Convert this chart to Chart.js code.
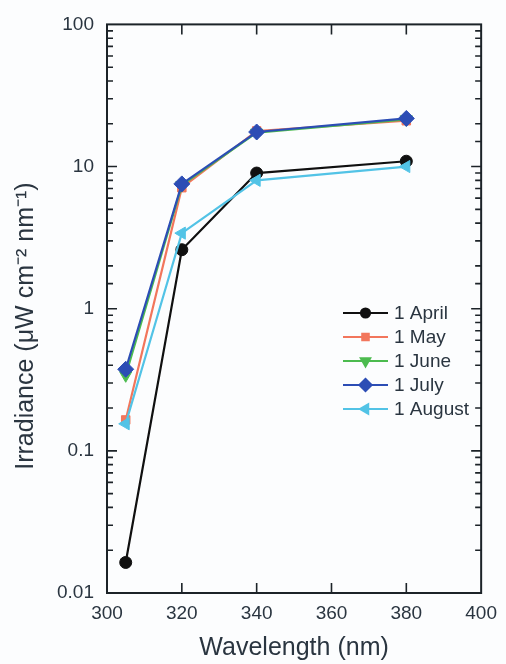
<!DOCTYPE html>
<html>
<head>
<meta charset="utf-8">
<script src="https://cdn.jsdelivr.net/npm/chart.js@4/dist/chart.umd.min.js"></script>
<style>
  html, body { margin: 0; padding: 0; background: #fcfdfe; }
  #wrap { width: 506px; height: 664px; }
</style>
</head>
<body>
<div id="wrap"><canvas id="graphic" width="506" height="664"></canvas></div>
<script>
// ==========================================================================
// DATA
// ==========================================================================
const wavelengths = [305, 320, 340, 380];
const seriesNames = ['1 April', '1 May', '1 June', '1 July', '1 August'];
const april  = [0.0164, 2.6, 9.0, 10.9];
const may    = [0.165, 7.1, 17.8, 21.0];
const june   = [0.34, 7.4, 17.3, 21.5];
const july   = [0.375, 7.55, 17.5, 21.8];
const august = [0.155, 3.4, 8.0, 10.0];
const xTicks = [300, 320, 340, 360, 380, 400];
const yDecades = [0.01, 0.1, 1, 10, 100];

const FONT = "'Liberation Sans', Arial, Helvetica, sans-serif";
const INK = '#1c2328';
const LABEL = '#2a3540';

function points(values) {
  return wavelengths.map((w, i) => ({ x: w, y: values[i] }));
}

// style per series: colour, marker, size, rotation, draw order
const styles = [
  { color: '#101010', point: 'circle',   r: 6,   rot: 0,   order: 4 },
  { color: '#f2765c', point: 'rect',     r: 6,   rot: 0,   order: 3 },
  { color: '#4cbb4f', point: 'triangle', r: 7,   rot: 180, order: 2 },
  { color: '#2c4db5', point: 'rectRot',  r: 8,   rot: 0,   order: 0 },
  { color: '#52c3e6', point: 'triangle', r: 7,   rot: 270, order: 1 },
];
const allValues = [april, may, june, july, august];

// ==========================================================================
// FRAME + INWARD TICKS + LEGEND
// ==========================================================================
const framePlugin = {
  id: 'frame',
  afterDatasetsDraw(chart) {
    const { ctx, chartArea: a, scales } = chart;
    ctx.save();
    ctx.strokeStyle = INK;
    ctx.lineWidth = 2;
    ctx.strokeRect(a.left, a.top, a.right - a.left, a.bottom - a.top);

    // x major ticks, top and bottom
    ctx.lineWidth = 1.6;
    scales.x.ticks.forEach(t => {
      const px = scales.x.getPixelForValue(t.value);
      if (px <= a.left + 1 || px >= a.right - 1) return;
      ctx.beginPath();
      ctx.moveTo(px, a.bottom); ctx.lineTo(px, a.bottom - 10);
      ctx.moveTo(px, a.top); ctx.lineTo(px, a.top + 10);
      ctx.stroke();
    });

    // y major + minor ticks, left and right
    scales.y.ticks.forEach(t => {
      const py = scales.y.getPixelForValue(t.value);
      if (py <= a.top + 1 || py >= a.bottom - 1) return;
      const lg = Math.log10(t.value);
      const len = Math.abs(lg - Math.round(lg)) < 1e-6 ? 10 : 6;
      ctx.beginPath();
      ctx.moveTo(a.left, py); ctx.lineTo(a.left + len, py);
      ctx.moveTo(a.right, py); ctx.lineTo(a.right - len, py);
      ctx.stroke();
    });
    ctx.restore();
  },
  afterDraw(chart) {
    const { ctx, chartArea: a } = chart;
    const x0 = a.left + 236;
    const y0 = 313;
    const step = 24;
    ctx.save();
    ctx.font = '19px ' + FONT;
    ctx.textBaseline = 'middle';
    ctx.fillStyle = LABEL;
    chart.data.datasets.forEach((ds, i) => {
      const y = y0 + i * step;
      ctx.strokeStyle = ds.borderColor;
      ctx.lineWidth = 2.2;
      ctx.beginPath();
      ctx.moveTo(x0, y); ctx.lineTo(x0 + 45, y);
      ctx.stroke();
      ctx.fillStyle = ds.backgroundColor;
      Chart.helpers.drawPoint(ctx, {
        pointStyle: ds.pointStyle,
        rotation: ds.pointRotation,
        radius: ds.pointRadius * 0.75,
        borderWidth: 1
      }, x0 + 22.5, y);
      ctx.fillStyle = LABEL;
      ctx.fillText(ds.label, x0 + 51, y + 1);
    });
    ctx.restore();
  }
};

// ==========================================================================
// CHART
// ==========================================================================
const ctx = document.getElementById('graphic').getContext('2d');
const myChart = new Chart(ctx, {
  type: 'scatter',
  data: {
    datasets: allValues.map((vals, i) => ({
      label: seriesNames[i],
      data: points(vals),
      showLine: true,
      tension: 0,
      borderColor: styles[i].color,
      backgroundColor: styles[i].color,
      borderWidth: 2.2,
      pointStyle: styles[i].point,
      pointRadius: styles[i].r,
      pointRotation: styles[i].rot,
      pointBorderWidth: 1,
      order: styles[i].order
    }))
  },
  options: {
    responsive: false,
    animation: false,
    layout: { padding: { top: 23, right: 19, left: 0, bottom: 0 } },
    plugins: {
      legend: { display: false },
      tooltip: { enabled: false }
    },
    scales: {
      x: {
        type: 'linear',
        min: 300,
        max: 400,
        afterBuildTicks: s => { s.ticks = xTicks.map(v => ({ value: v })); },
        afterFit: s => { s.height = 71; },
        grid: { display: false, drawTicks: false },
        border: { display: false },
        ticks: {
          padding: 9,
          color: LABEL,
          font: { family: FONT, size: 19 },
          maxRotation: 0
        },
        title: {
          display: true,
          text: 'Wavelength (nm)',
          color: LABEL,
          font: { family: FONT, size: 25 },
          padding: { top: 0, bottom: 1 }
        }
      },
      y: {
        type: 'logarithmic',
        min: 0.01,
        max: 100,
        afterFit: s => { s.width = 107; },
        grid: { display: false, drawTicks: false },
        border: { display: false },
        ticks: {
          autoSkip: false,
          padding: 13,
          color: LABEL,
          font: { family: FONT, size: 19 },
          callback: v => {
            const lg = Math.log10(v);
            if (Math.abs(lg - Math.round(lg)) > 1e-6) return '';
            const d = yDecades.find(t => Math.abs(t - v) / t < 1e-6);
            return d >= 1 ? String(d) : d.toFixed(-Math.round(lg));
          }
        },
        title: {
          display: true,
          text: 'Irradiance (\u03bcW cm\u207b\u00b2 nm\u207b\u00b9)     ',
          color: LABEL,
          font: { family: FONT, size: 25 },
          padding: { top: 11, bottom: 0 }
        }
      }
    }
  },
  plugins: [framePlugin]
});
</script>
</body>
</html>
